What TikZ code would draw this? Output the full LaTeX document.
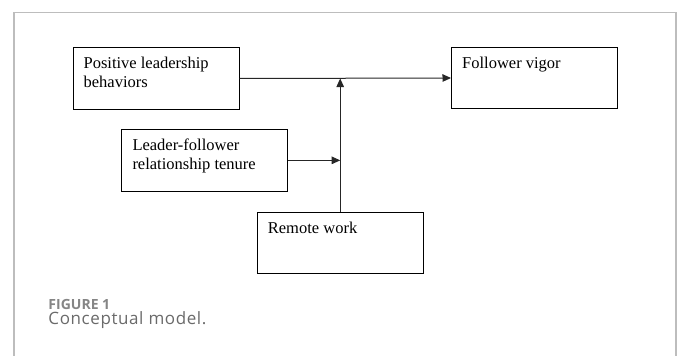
\documentclass[tikz,border=0pt]{standalone}
\usepackage{fontspec}
\setmainfont{Liberation Serif}
\newfontfamily\capfont{Open Sans}
\newfontfamily\capfontsp[LetterSpace=3.5]{Open Sans}
\usetikzlibrary{arrows.meta,calc}
\definecolor{framegray}{HTML}{BDBDBD}
\definecolor{capgray}{HTML}{6A6A6A}
\definecolor{figgray}{HTML}{858585}
\tikzset{
  box/.style={draw=black,line width=1pt,inner sep=0pt,anchor=north west},
  boxtext/.style={inner sep=0pt,anchor=north west,align=left,
    font=\fontsize{16.5}{19}\selectfont},
  conn/.style={line width=1pt,draw=black!85,-{Triangle[length=8.5pt,width=7.5pt]}},
}
\begin{document}
\begin{tikzpicture}[x=1pt,y=-1pt]
\useasboundingbox (0,0) rectangle (678,356);
\draw[framegray,line width=1.2pt] (14,356) -- (14,12.5) -- (676,12.5) -- (676,356);
% boxes
\node[box,minimum width=166pt,minimum height=62pt] (plb) at (72.7,47) {};
\node[boxtext] (plbt) at ($(plb.north west)+(10.7,10)$) {Positive leadership\\behaviors};
\node[box,minimum width=166.3pt,minimum height=61.6pt] (fv) at (451,46.7) {};
\node[boxtext] (fvt) at ($(fv.north west)+(11,10.3)$) {Follower vigor};
\node[box,minimum width=166pt,minimum height=62.3pt] (lft) at (121.3,128.7) {};
\node[boxtext] (lftt) at ($(lft.north west)+(11,10.3)$) {Leader-follower\\relationship tenure};
\node[box,minimum width=166pt,minimum height=61.6pt] (rw) at (256.7,211.7) {};
\node[boxtext] (rwt) at ($(rw.north west)+(11,10.3)$) {Remote work};
% connectors
\coordinate (j) at (plb.east -| rw.north);
\coordinate (k) at (lft.east -| rw.north);
\draw[conn] (plb.east) -- (fv.west);
\draw[conn] (rw.north) -- (j);
\draw[conn] (lft.east) -- (k);
% caption
\node[inner sep=0pt,anchor=base west,text=figgray,font=\capfont\fontsize{14}{16}\selectfont\bfseries] (fig) at (48.3,309.3) {FIGURE 1};
\node[inner sep=0pt,anchor=base west,text=capgray,font=\capfontsp\fontsize{17}{19}\selectfont] (cap) at (48.3,324.5) {Conceptual model.};
\end{tikzpicture}
\end{document}
